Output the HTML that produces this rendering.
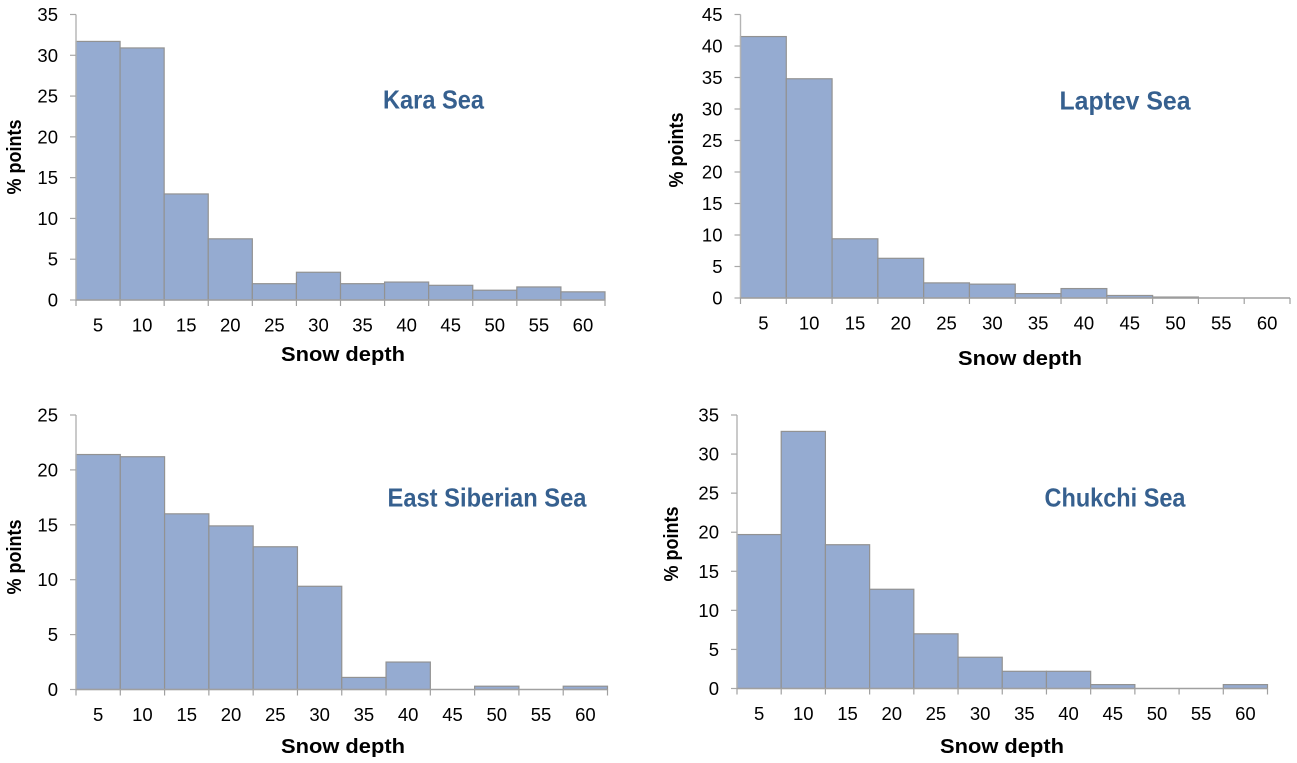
<!DOCTYPE html>
<html lang="en">
<head>
<meta charset="utf-8">
<title>Snow depth histograms</title>
<style>
html,body{margin:0;padding:0;background:#fff;width:1297px;height:763px;overflow:hidden}
svg{display:block}
text{font-family:"Liberation Sans",sans-serif;fill:#000}
.tick{font-size:18.5px}
.axis-title{font-size:20.5px;font-weight:bold}
.sea{font-size:26px;font-weight:bold;fill:#36608f}
</style>
</head>
<body>
<svg id="figure" width="1297" height="763" viewBox="0 0 1297 763" xmlns="http://www.w3.org/2000/svg"></svg>
<script>
const categories = [5, 10, 15, 20, 25, 30, 35, 40, 45, 50, 55, 60];
const karaValues = [31.7, 30.9, 13, 7.5, 2, 3.4, 2, 2.2, 1.8, 1.2, 1.6, 1.0];
const laptevValues = [41.5, 34.8, 9.4, 6.3, 2.4, 2.2, 0.7, 1.5, 0.4, 0.15, 0, 0];
const eastSiberianValues = [21.4, 21.2, 16, 14.9, 13, 9.4, 1.1, 2.5, 0, 0.3, 0, 0.3];
const chukchiValues = [19.7, 32.9, 18.4, 12.7, 7, 4, 2.2, 2.2, 0.5, 0, 0, 0.5];
const karaTicks = [0, 5, 10, 15, 20, 25, 30, 35];
const laptevTicks = [0, 5, 10, 15, 20, 25, 30, 35, 40, 45];
const eastSiberianTicks = [0, 5, 10, 15, 20, 25];
const chukchiTicks = [0, 5, 10, 15, 20, 25, 30, 35];

const svg = document.getElementById('figure');
const NS = 'http://www.w3.org/2000/svg';

function make(tag, attrs, parent, content) {
  const el = document.createElementNS(NS, tag);
  for (const key in attrs) el.setAttribute(key, attrs[key]);
  if (content !== undefined) el.textContent = content;
  parent.appendChild(el);
  return el;
}

function drawPanel(cfg) {
  const group = make('g', {}, svg);
  
  

  const maxTick = cfg.ticks[cfg.ticks.length - 1];
  const xStep = (cfg.right - cfg.left) / cfg.values.length;
  const xAt = i => cfg.left + i * xStep;
  const yAt = v => cfg.bottom - (v / maxTick) * (cfg.bottom - cfg.top);

  cfg.values.forEach((v, i) => {
    if (v <= 0) return;
    const bar = make('rect', {
      x: xAt(i), y: yAt(v), width: xStep, height: cfg.bottom - yAt(v),
      fill: '#95abd1', stroke: '#929292', 'stroke-width': 1.2
    }, group);
    
    
  });

  const yAxis = make('line', {
    x1: cfg.left, x2: cfg.left, y1: cfg.top, y2: cfg.bottom,
    stroke: '#b4b4b4', 'stroke-width': 1.4
  }, group);
  
  

  const xAxis = make('line', {
    x1: cfg.left, x2: cfg.right, y1: cfg.bottom, y2: cfg.bottom,
    stroke: '#a0a0a0', 'stroke-width': 1.4
  }, group);
  
  

  cfg.ticks.forEach(t => {
    const mark = make('line', {
      x1: cfg.left - 6, x2: cfg.left, y1: yAt(t), y2: yAt(t),
      stroke: '#a8a8a8', 'stroke-width': 1.2
    }, group);
    
    
    const label = make('text', {
      x: cfg.left - 18, y: yAt(t) + 6.5, 'text-anchor': 'end', class: 'tick'
    }, group, String(t));
    
    
  });

  for (let i = 0; i <= categories.length; i++) {
    const mark = make('line', {
      x1: xAt(i), x2: xAt(i), y1: cfg.bottom, y2: cfg.bottom + 6,
      stroke: '#a0a0a0', 'stroke-width': 1.2
    }, group);
    
    
  }

  categories.forEach((c, i) => {
    const label = make('text', {
      x: xAt(i) + xStep / 2, y: cfg.bottom + 31.5, 'text-anchor': 'middle', class: 'tick'
    }, group, String(c));
    
    
  });

  const xTitle = make('text', {
    x: cfg.xTitleX, y: cfg.xTitleY, 'text-anchor': 'middle', class: 'axis-title',
    textLength: 124, lengthAdjust: 'spacingAndGlyphs'
  }, group, 'Snow depth');
  
  

  const yTitle = make('text', {
    transform: 'translate(' + cfg.yTitleX + ' ' + cfg.yTitleY + ') rotate(-90)',
    'text-anchor': 'middle', class: 'axis-title',
    textLength: 75, lengthAdjust: 'spacingAndGlyphs'
  }, group, '% points');
  
  

  const seaName = make('text', {
    x: cfg.nameX, y: cfg.nameY, 'text-anchor': 'middle', class: 'sea',
    textLength: cfg.nameW, lengthAdjust: 'spacingAndGlyphs'
  }, group, cfg.name);
  
  
}

drawPanel({slug: 'kara-sea', name: 'Kara Sea', values: karaValues, ticks: karaTicks,
  left: 76, right: 605, top: 14.5, bottom: 300,
  xTitleX: 343, xTitleY: 361, yTitleX: 21, yTitleY: 157, nameX: 433.5, nameY: 108.5, nameW: 101});
drawPanel({slug: 'laptev-sea', name: 'Laptev Sea', values: laptevValues, ticks: laptevTicks,
  left: 740.5, right: 1290, top: 14.5, bottom: 298,
  xTitleX: 1020, xTitleY: 365, yTitleX: 683, yTitleY: 150, nameX: 1125, nameY: 109.5, nameW: 131});
drawPanel({slug: 'east-siberian-sea', name: 'East Siberian Sea', values: eastSiberianValues, ticks: eastSiberianTicks,
  left: 76, right: 607.5, top: 415, bottom: 689.5,
  xTitleX: 343, xTitleY: 753, yTitleX: 21, yTitleY: 557, nameX: 487, nameY: 506.5, nameW: 199});
drawPanel({slug: 'chukchi-sea', name: 'Chukchi Sea', values: chukchiValues, ticks: chukchiTicks,
  left: 737, right: 1267.5, top: 415, bottom: 688.5,
  xTitleX: 1002, xTitleY: 753, yTitleX: 678, yTitleY: 544, nameX: 1115, nameY: 506.5, nameW: 141});
</script>
</body>
</html>
